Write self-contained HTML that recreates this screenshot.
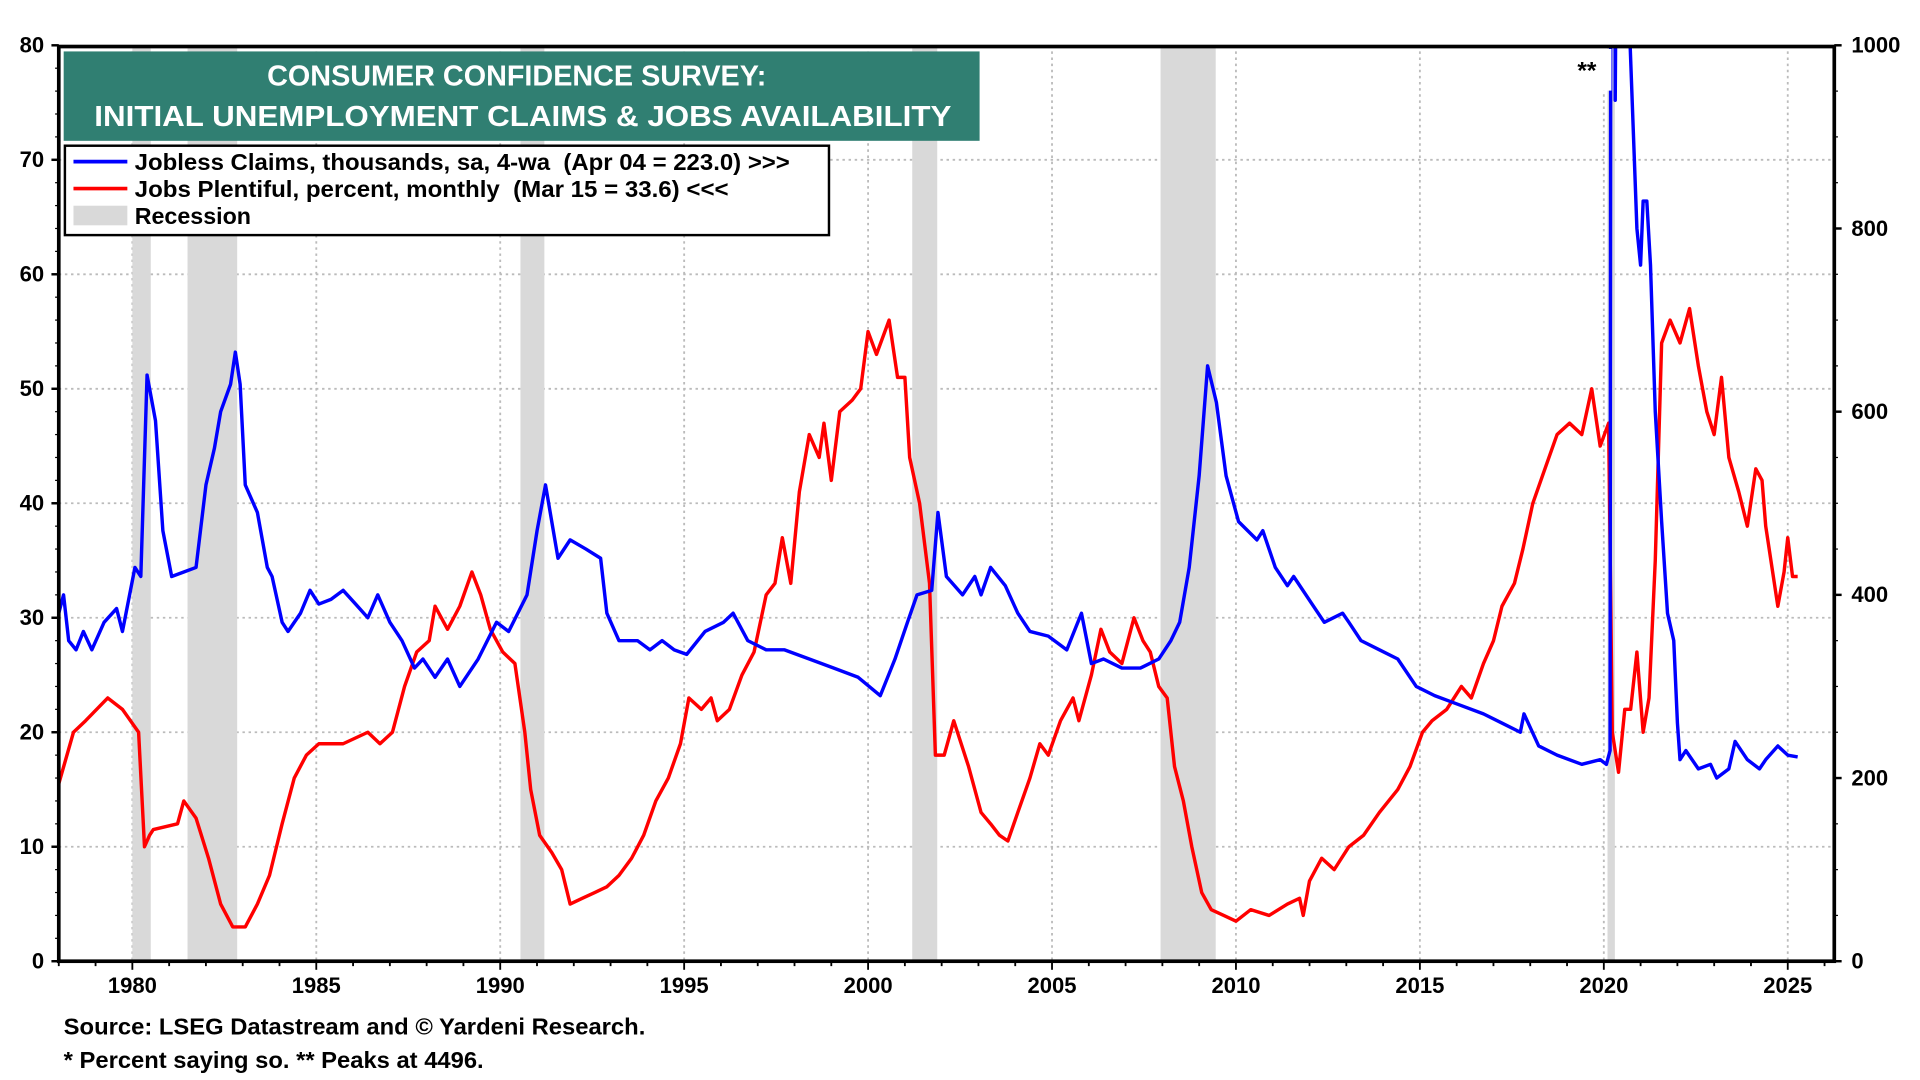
<!DOCTYPE html>
<html><head><meta charset="utf-8"><style>
html,body{margin:0;padding:0;background:#fff;}
svg{display:block;font-family:"Liberation Sans",Arial,sans-serif;font-weight:bold;}
</style></head><body>
<svg id="chart" width="1920" height="1080" viewBox="0 0 1568 882" xmlns="http://www.w3.org/2000/svg">
<defs><clipPath id="plotclip"><rect x="48" y="38" width="1450" height="747"/></clipPath></defs>
<g id="grid"></g>
<g id="recessions"></g>
<g id="series" clip-path="url(#plotclip)"></g>
<rect x="48" y="38" width="1450" height="747" fill="none" stroke="#000" stroke-width="3"/>
<g id="axes"></g>
<rect x="1278" y="40" width="38" height="34" fill="#fff"/>
<text x="1296" y="64" font-size="20" text-anchor="middle">**</text>
<rect x="52" y="42" width="748" height="73" fill="#307f72"/>
<text x="422" y="70" font-size="23.5" fill="#fff" text-anchor="middle">CONSUMER CONFIDENCE SURVEY:</text>
<text x="427" y="103" font-size="23.5" fill="#fff" text-anchor="middle" textLength="700" lengthAdjust="spacingAndGlyphs">INITIAL UNEMPLOYMENT CLAIMS &amp; JOBS AVAILABILITY</text>
<g>
<rect x="53" y="119" width="624" height="73" fill="#fff" stroke="#000" stroke-width="2"/>
<line x1="60" y1="132" x2="104" y2="132" stroke="#0000ff" stroke-width="3"/>
<text x="110" y="139" font-size="19" textLength="535" lengthAdjust="spacingAndGlyphs">Jobless Claims, thousands, sa, 4-wa&#160; (Apr 04 = 223.0) &gt;&gt;&gt;</text>
<line x1="60" y1="154" x2="104" y2="154" stroke="#ff0000" stroke-width="3"/>
<text x="110" y="161" font-size="19" textLength="485" lengthAdjust="spacingAndGlyphs">Jobs Plentiful, percent, monthly&#160; (Mar 15 = 33.6) &lt;&lt;&lt;</text>
<rect x="60" y="168" width="44" height="16" fill="#d9d9d9"/>
<text x="110" y="183" font-size="19">Recession</text>
</g>
<text x="52" y="845" font-size="19" textLength="475" lengthAdjust="spacingAndGlyphs">Source: LSEG Datastream and © Yardeni Research.</text>
<text x="52" y="872" font-size="19" textLength="343" lengthAdjust="spacingAndGlyphs">* Percent saying so. ** Peaks at 4496.</text>
</svg>
<script>
const leftTicks=[0,10,20,30,40,50,60,70,80];
const rightTicks=[0,200,400,600,800,1000];
const yearTicks=[1980,1985,1990,1995,2000,2005,2010,2015,2020,2025];
const recStart=[1980.0,1981.5,1990.55,2001.2,2007.95,2020.1];
const recEnd=[1980.5,1982.85,1991.2,2001.88,2009.45,2020.3];
const jobsYears=[1978.00,1978.40,1978.73,1979.33,1979.73,1980.17,1980.33,1980.47,1980.57,1981.23,1981.40,1981.73,1982.07,1982.40,1982.73,1983.07,1983.40,1983.73,1984.07,1984.40,1984.73,1985.07,1985.73,1986.40,1986.73,1987.07,1987.40,1987.73,1988.07,1988.23,1988.57,1988.90,1989.23,1989.47,1989.73,1990.07,1990.40,1990.67,1990.83,1991.07,1991.40,1991.67,1991.90,1992.23,1992.57,1992.90,1993.23,1993.57,1993.90,1994.23,1994.57,1994.90,1995.13,1995.47,1995.73,1995.90,1996.23,1996.57,1996.90,1997.23,1997.47,1997.67,1997.90,1998.13,1998.40,1998.67,1998.80,1999.00,1999.23,1999.57,1999.80,2000.00,2000.23,2000.57,2000.80,2001.00,2001.13,2001.40,2001.67,2001.83,2002.07,2002.33,2002.73,2003.07,2003.33,2003.57,2003.80,2004.07,2004.40,2004.67,2004.90,2005.23,2005.57,2005.73,2006.07,2006.33,2006.57,2006.90,2007.23,2007.47,2007.67,2007.90,2008.13,2008.33,2008.57,2008.80,2009.07,2009.33,2009.67,2010.00,2010.40,2010.90,2011.40,2011.73,2011.83,2012.00,2012.33,2012.67,2013.07,2013.47,2013.90,2014.40,2014.73,2015.07,2015.33,2015.73,2016.13,2016.40,2016.73,2017.00,2017.23,2017.57,2017.80,2018.07,2018.40,2018.73,2019.07,2019.40,2019.67,2019.90,2020.13,2020.23,2020.40,2020.57,2020.73,2020.90,2021.07,2021.23,2021.40,2021.57,2021.80,2022.07,2022.33,2022.57,2022.80,2023.00,2023.20,2023.40,2023.67,2023.90,2024.13,2024.30,2024.40,2024.73,2024.90,2025.00,2025.13,2025.27];
const jobsValues=[15.5,20,21,23,22,20,10,11,11.5,12,14,12.5,9,5,3,3,5,7.5,12,16,18,19,19,20,19,20,24,27,28,31,29,31,34,32,29,27,26,20,15,11,9.5,8,5,5.5,6,6.5,7.5,9,11,14,16,19,23,22,23,21,22,25,27,32,33,37,33,41,46,44,47,42,48,49,50,55,53,56,51,51,44,40,33,18,18,21,17,13,12,11,10.5,13,16,19,18,21,23,21,25,29,27,26,30,28,27,24,23,17,14,10,6,4.5,4,3.5,4.5,4,5,5.5,4,7,9,8,10,11,13,15,17,20,21,22,24,23,26,28,31,33,36,40,43,46,47,46,50,45,47,20,16.5,22,22,27,20,23,35,54,56,54,57,52,48,46,51,44,41,38,43,42,38,31,34,37,33.6,33.6];
const claimsYears=[1978.00,1978.13,1978.27,1978.47,1978.67,1978.90,1979.23,1979.57,1979.73,1980.07,1980.23,1980.40,1980.63,1980.83,1981.07,1981.40,1981.73,1982.00,1982.23,1982.40,1982.67,1982.80,1982.93,1983.07,1983.40,1983.67,1983.80,1984.07,1984.23,1984.57,1984.83,1985.07,1985.40,1985.73,1986.07,1986.40,1986.67,1987.00,1987.33,1987.67,1987.90,1988.23,1988.57,1988.90,1989.40,1989.90,1990.23,1990.73,1991.00,1991.23,1991.57,1991.90,1992.33,1992.73,1992.90,1993.23,1993.73,1994.07,1994.40,1994.73,1995.07,1995.57,1996.07,1996.33,1996.73,1997.23,1997.73,1998.40,1999.07,1999.73,2000.33,2000.73,2001.07,2001.33,2001.73,2001.90,2002.13,2002.57,2002.90,2003.07,2003.33,2003.73,2004.07,2004.40,2004.90,2005.40,2005.80,2006.07,2006.40,2006.90,2007.40,2007.90,2008.23,2008.47,2008.73,2009.00,2009.23,2009.47,2009.73,2010.07,2010.57,2010.73,2011.07,2011.40,2011.57,2012.07,2012.40,2012.90,2013.07,2013.40,2013.90,2014.40,2014.90,2015.40,2016.07,2016.73,2017.23,2017.73,2017.83,2018.23,2018.73,2019.40,2019.90,2020.07,2020.17,2020.26,2020.31,2020.40,2020.67,2020.90,2021.00,2021.07,2021.17,2021.27,2021.40,2021.57,2021.73,2021.90,2022.00,2022.07,2022.23,2022.57,2022.90,2023.07,2023.40,2023.57,2023.90,2024.23,2024.40,2024.73,2025.00,2025.27];
const claimsValues=[380,400,350,340,360,340,370,385,360,430,420,640,590,470,420,425,430,520,560,600,630,665,630,520,490,430,420,370,360,380,405,390,395,405,390,375,400,370,350,320,330,310,330,300,330,370,360,400,470,520,440,460,450,440,380,350,350,340,350,340,335,360,370,380,350,340,340,330,320,310,290,330,370,400,405,490,420,400,420,400,430,410,380,360,355,340,380,325,330,320,320,330,350,370,430,530,650,610,530,480,460,470,430,410,420,390,370,380,370,350,340,330,300,290,280,270,260,250,270,235,225,215,220,215,230,4496,940,1500,1050,800,760,830,830,760,600,480,380,350,260,220,230,210,215,200,210,240,220,210,220,235,225,223];
const X0=48,X1=1498,Y0=785,Y1=37;
const xs=y=>48+(y-1978)*(1460-48)/47;
const yl=v=>Y0-(v/80)*(Y0-Y1);
const yr=v=>Y0-(v/1000)*(Y0-Y1);
const NS='http://www.w3.org/2000/svg';
function mk(tag,attrs,parent){const e=document.createElementNS(NS,tag);for(const k in attrs)e.setAttribute(k,attrs[k]);parent.appendChild(e);return e;}
const grid=document.getElementById('grid'),rec=document.getElementById('recessions'),ser=document.getElementById('series'),axes=document.getElementById('axes');
leftTicks.forEach(t=>{if(t>0&&t<80){const l=mk('line',{x1:X0,x2:X1,y1:yl(t),y2:yl(t),stroke:'#bbb','stroke-width':1.5,'stroke-dasharray':'2,3'},grid);

}
const tx=mk('text',{x:36,y:yl(t)+6,'font-size':18,'text-anchor':'end'},axes);tx.textContent=t;


mk('line',{x1:X0-6,x2:X0,y1:yl(t),y2:yl(t),stroke:'#000','stroke-width':2},axes);
for(let m=1;m<5&&t<80;m++)mk('line',{x1:X0-3,x2:X0,y1:yl(t+m*2),y2:yl(t+m*2),stroke:'#000','stroke-width':1},axes);});
rightTicks.forEach(t=>{const tx=mk('text',{x:1512,y:yr(t)+6,'font-size':18},axes);tx.textContent=t;


mk('line',{x1:X1,x2:X1+6,y1:yr(t),y2:yr(t),stroke:'#000','stroke-width':2},axes);
if(t<1000)for(let m=1;m<4;m++)mk('line',{x1:X1,x2:X1+3,y1:yr(t+m*50),y2:yr(t+m*50),stroke:'#000','stroke-width':1},axes);});
yearTicks.forEach(t=>{const l=mk('line',{x1:xs(t),x2:xs(t),y1:Y1,y2:Y0,stroke:'#bbb','stroke-width':1.5,'stroke-dasharray':'2,3'},grid);


const tx=mk('text',{x:xs(t),y:811,'font-size':18,'text-anchor':'middle'},axes);tx.textContent=t;

});
for(let y=1978;y<=2026;y++)mk('line',{x1:xs(y),x2:xs(y),y1:Y0,y2:Y0+(y%5===0?7:4),stroke:'#000','stroke-width':1.5},axes);
recStart.forEach((s,i)=>{const r=mk('rect',{x:xs(s),y:Y1+2,width:xs(recEnd[i])-xs(s),height:Y0-Y1-2,fill:'#d9d9d9'},rec);

});
function path(xsArr,vals,f,color,name){let d='';xsArr.forEach((x,i)=>{d+=(i?'L':'M')+xs(x).toFixed(1)+','+f(vals[i]).toFixed(1);});
const p=mk('path',{d:d,fill:'none',stroke:color,'stroke-width':2.8,'stroke-linejoin':'round'},ser);

}
path(jobsYears,jobsValues,yl,'#ff0000','jobs-plentiful-line');
path(claimsYears,claimsValues,yr,'#0000ff','jobless-claims-line');
</script>
</body></html>
